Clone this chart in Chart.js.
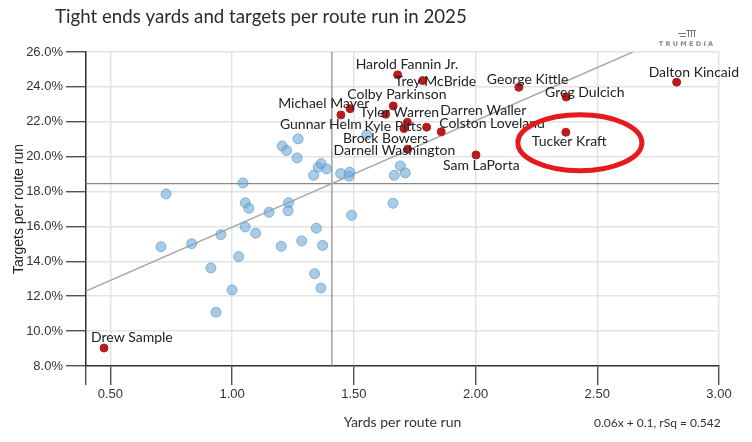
<!DOCTYPE html>
<html>
<head>
<meta charset="utf-8">
<script src="https://cdn.jsdelivr.net/npm/chart.js@4"></script>
<style>
  body { margin: 0; background: #fff; }
</style>
</head>
<body>
<canvas id="chart" width="752" height="442"></canvas>
<script>
// highlighted tight ends (yards per route run, targets per route run in %)
var names = ['Harold Fannin Jr.', 'Trey McBride', 'George Kittle', 'Dalton Kincaid', 'Colby Parkinson',
    'Greg Dulcich', 'Michael Mayer', 'Gunnar Helm', 'Tyler Warren', 'Darren Waller', 'Kyle Pitts',
    'Colston Loveland', 'Brock Bowers', 'Darnell Washington', 'Sam LaPorta', 'Tucker Kraft', 'Drew Sample'];
var namedYprr = [1.680, 1.783, 2.178, 2.826, 1.662, 2.372, 1.485, 1.447, 1.631, 1.720, 1.799,
    1.859, 1.706, 1.721, 2.002, 2.371, 0.474];
var namedTprr = [24.69, 24.36, 23.98, 24.27, 22.91, 23.42, 22.75, 22.39, 22.43, 21.97, 21.69,
    21.43, 21.61, 20.43, 20.10, 21.40, 9.03];

// the other tight ends
var otherYprr = [0.708, 0.729, 0.834, 0.913, 0.934, 0.954, 1.000, 1.027, 1.045, 1.054, 1.054, 1.069,
    1.097, 1.152, 1.202, 1.206, 1.224, 1.232, 1.230, 1.267, 1.271, 1.286, 1.335, 1.339, 1.346, 1.354,
    1.366, 1.365, 1.372, 1.388, 1.446, 1.483, 1.481, 1.491, 1.553, 1.661, 1.666, 1.691, 1.711];
var otherTprr = [14.84, 17.86, 15.01, 13.62, 11.08, 15.53, 12.36, 14.27, 18.49, 17.36, 15.97, 17.04,
    15.61, 16.81, 14.86, 20.61, 20.35, 17.36, 16.90, 19.93, 21.02, 15.17, 18.93, 13.29, 15.90, 19.39,
    19.60, 12.47, 14.91, 19.30, 19.03, 19.11, 18.88, 16.64, 21.25, 17.33, 18.93, 19.47, 19.07];

var xTicks = [0.5, 1.0, 1.5, 2.0, 2.5, 3.0];
var yTicks = [8, 10, 12, 14, 16, 18, 20, 22, 24, 26];
var xMin = 0.4, xMax = 3.0, yMin = 8, yMax = 26;

var avgYprr = 1.41;
var avgTprr = 18.46;
var regSlope = 6.1;      // % per yard
var regIntercept = 9.86; // %
var regText = '0.06x + 0.1, rSq = 0.542';

// label placement, pixels from the dot to the start of the text
var labelOffsets = {
    'Harold Fannin Jr.': [-42, -10], 'Trey McBride': [-28, 1], 'George Kittle': [-32, -8],
    'Dalton Kincaid': [-28, -10], 'Colby Parkinson': [-46, -11], 'Greg Dulcich': [-21, -5],
    'Michael Mayer': [-72, -5], 'Gunnar Helm': [-61, 10], 'Tyler Warren': [-26, -2],
    'Darren Waller': [33, -12], 'Kyle Pitts': [-62, -1], 'Colston Loveland': [-2, -8],
    'Brock Bowers': [-61, 10], 'Darnell Washington': [-74, 1], 'Sam LaPorta': [-33, 11],
    'Tucker Kraft': [-34, 9], 'Drew Sample': [-13, -11]
};

var namedPoints = names.map(function (n, i) { return { x: namedYprr[i], y: namedTprr[i], name: n }; });
var otherPoints = otherYprr.map(function (x, i) { return { x: x, y: otherTprr[i] }; });
var regEnd = (yMax - regIntercept) / regSlope;
var regLine = [{ x: xMin, y: regIntercept + regSlope * xMin }, { x: regEnd, y: yMax }];

var extras = {
    id: 'extras',
    afterDatasetsDraw: function (chart) {
        var ctx = chart.ctx;
        var xs = chart.scales.x, ys = chart.scales.y;
        ctx.save();
        // player names
        ctx.font = '14px Lato';
        ctx.fillStyle = '#222';
        ctx.textBaseline = 'middle';
        ctx.textAlign = 'left';
        namedPoints.forEach(function (p) {
            var o = labelOffsets[p.name];
            ctx.fillText(p.name, xs.getPixelForValue(p.x) + o[0], ys.getPixelForValue(p.y) + o[1]);
        });
        // red ring round Tucker Kraft
        var k = names.indexOf('Tucker Kraft');
        var cx = xs.getPixelForValue(namedYprr[k]) + 14;
        var cy = ys.getPixelForValue(namedTprr[k]) + 10.5;
        ctx.beginPath();
        ctx.ellipse(cx, cy, 62, 28, 0, 0, Math.PI * 2);
        ctx.strokeStyle = '#e41a1c';
        ctx.lineWidth = 5;
        ctx.stroke();
        ctx.restore();
    },
    afterDraw: function (chart) {
        var ctx = chart.ctx;
        ctx.save();
        ctx.fillStyle = '#2b2b2b';
        ctx.font = '18.7px Lato';
        ctx.textBaseline = 'middle';
        ctx.fillText('Tight ends yards and targets per route run in 2025', 55, 17);
        ctx.font = '12px Lato';
        ctx.fillStyle = '#333';
        ctx.fillText(regText, 594, 423);
        // logo
        ctx.fillStyle = '#8a8a8a';
        ctx.font = 'bold 6.5px "DejaVu Sans"';
        ctx.textAlign = 'center';
        ctx.fillText('T R U M E D I A', 686, 44);
        ctx.strokeStyle = '#777';
        ctx.lineWidth = 1;
        ctx.beginPath();
        ctx.moveTo(678, 33.5); ctx.lineTo(686, 33.5);
        ctx.moveTo(680, 36.5); ctx.lineTo(686, 36.5);
        ctx.moveTo(686, 30.5); ctx.lineTo(696, 30.5);
        ctx.moveTo(688.5, 31); ctx.lineTo(688.5, 37);
        ctx.moveTo(691.5, 31); ctx.lineTo(691.5, 37);
        ctx.moveTo(694.5, 31); ctx.lineTo(694.5, 37);
        ctx.stroke();
        ctx.restore();
    }
};

var ctx = document.getElementById('chart');
var chart = new Chart(ctx, {
    type: 'scatter',
    data: {
        datasets: [
            {
                label: 'named',
                data: namedPoints,
                backgroundColor: '#b71c1c',
                borderColor: '#b71c1c',
                pointRadius: 4,
                order: 1
            },
            {
                label: 'others',
                data: otherPoints,
                backgroundColor: 'rgba(112,168,212,0.6)',
                borderColor: 'rgba(96,156,204,0.7)',
                borderWidth: 1,
                pointRadius: 5,
                order: 2
            },
            {
                label: 'trend',
                type: 'line',
                data: regLine,
                borderColor: '#aaa',
                borderWidth: 1.5,
                pointRadius: 0,
                order: 3
            },
            {
                label: 'avg x',
                type: 'line',
                data: [{ x: avgYprr, y: yMin }, { x: avgYprr, y: yMax }],
                borderColor: '#888',
                borderWidth: 1.2,
                pointRadius: 0,
                order: 4
            },
            {
                label: 'avg y',
                type: 'line',
                data: [{ x: xMin, y: avgTprr }, { x: xMax, y: avgTprr }],
                borderColor: '#888',
                borderWidth: 1.2,
                pointRadius: 0,
                order: 4
            }
        ]
    },
    options: {
        responsive: false,
        animation: false,
        layout: { padding: { left: 0, right: 33, top: 52, bottom: 0 } },
        plugins: {
            legend: { display: false },
            tooltip: { enabled: false }
        },
        scales: {
            x: {
                type: 'linear',
                min: xMin,
                max: xMax,
                afterBuildTicks: function (scale) {
                    scale.ticks = [xMin].concat(xTicks).map(function (v) { return { value: v }; });
                },
                afterFit: function (scale) { scale.height = 76; },
                grid: { color: '#e3e3e3', lineWidth: 1.5, tickLength: 19, tickColor: '#333', tickWidth: 1.2 },
                border: { display: true, color: '#333', width: 1.5 },
                ticks: {
                    padding: 2,
                    color: '#333',
                    font: { family: '"Liberation Sans", Arial', size: 13 },
                    maxRotation: 0,
                    callback: function (v) { return v === xMin ? '' : v.toFixed(2); }
                },
                title: {
                    display: true,
                    text: 'Yards per route run',
                    color: '#333',
                    font: { family: 'Lato', size: 14 },
                    padding: { top: 0, bottom: 11 }
                }
            },
            y: {
                type: 'linear',
                min: yMin,
                max: yMax,
                afterBuildTicks: function (scale) {
                    scale.ticks = yTicks.map(function (v) { return { value: v }; });
                },
                afterFit: function (scale) { scale.width = 86; },
                grid: { color: '#e3e3e3', lineWidth: 1.5, tickLength: 20, tickColor: '#333', tickWidth: 1.2 },
                border: { display: true, color: '#333', width: 1.5 },
                ticks: {
                    padding: 3,
                    color: '#333',
                    font: { family: '"Liberation Sans", Arial', size: 13 },
                    callback: function (v) { return v.toFixed(1) + '%'; }
                },
                title: {
                    display: true,
                    text: 'Targets per route run',
                    color: '#222',
                    font: { family: '"Liberation Sans", Arial', size: 14 },
                    padding: { top: 11, bottom: 0 }
                }
            }
        }
    },
    plugins: [extras]
});
</script>
</body>
</html>
